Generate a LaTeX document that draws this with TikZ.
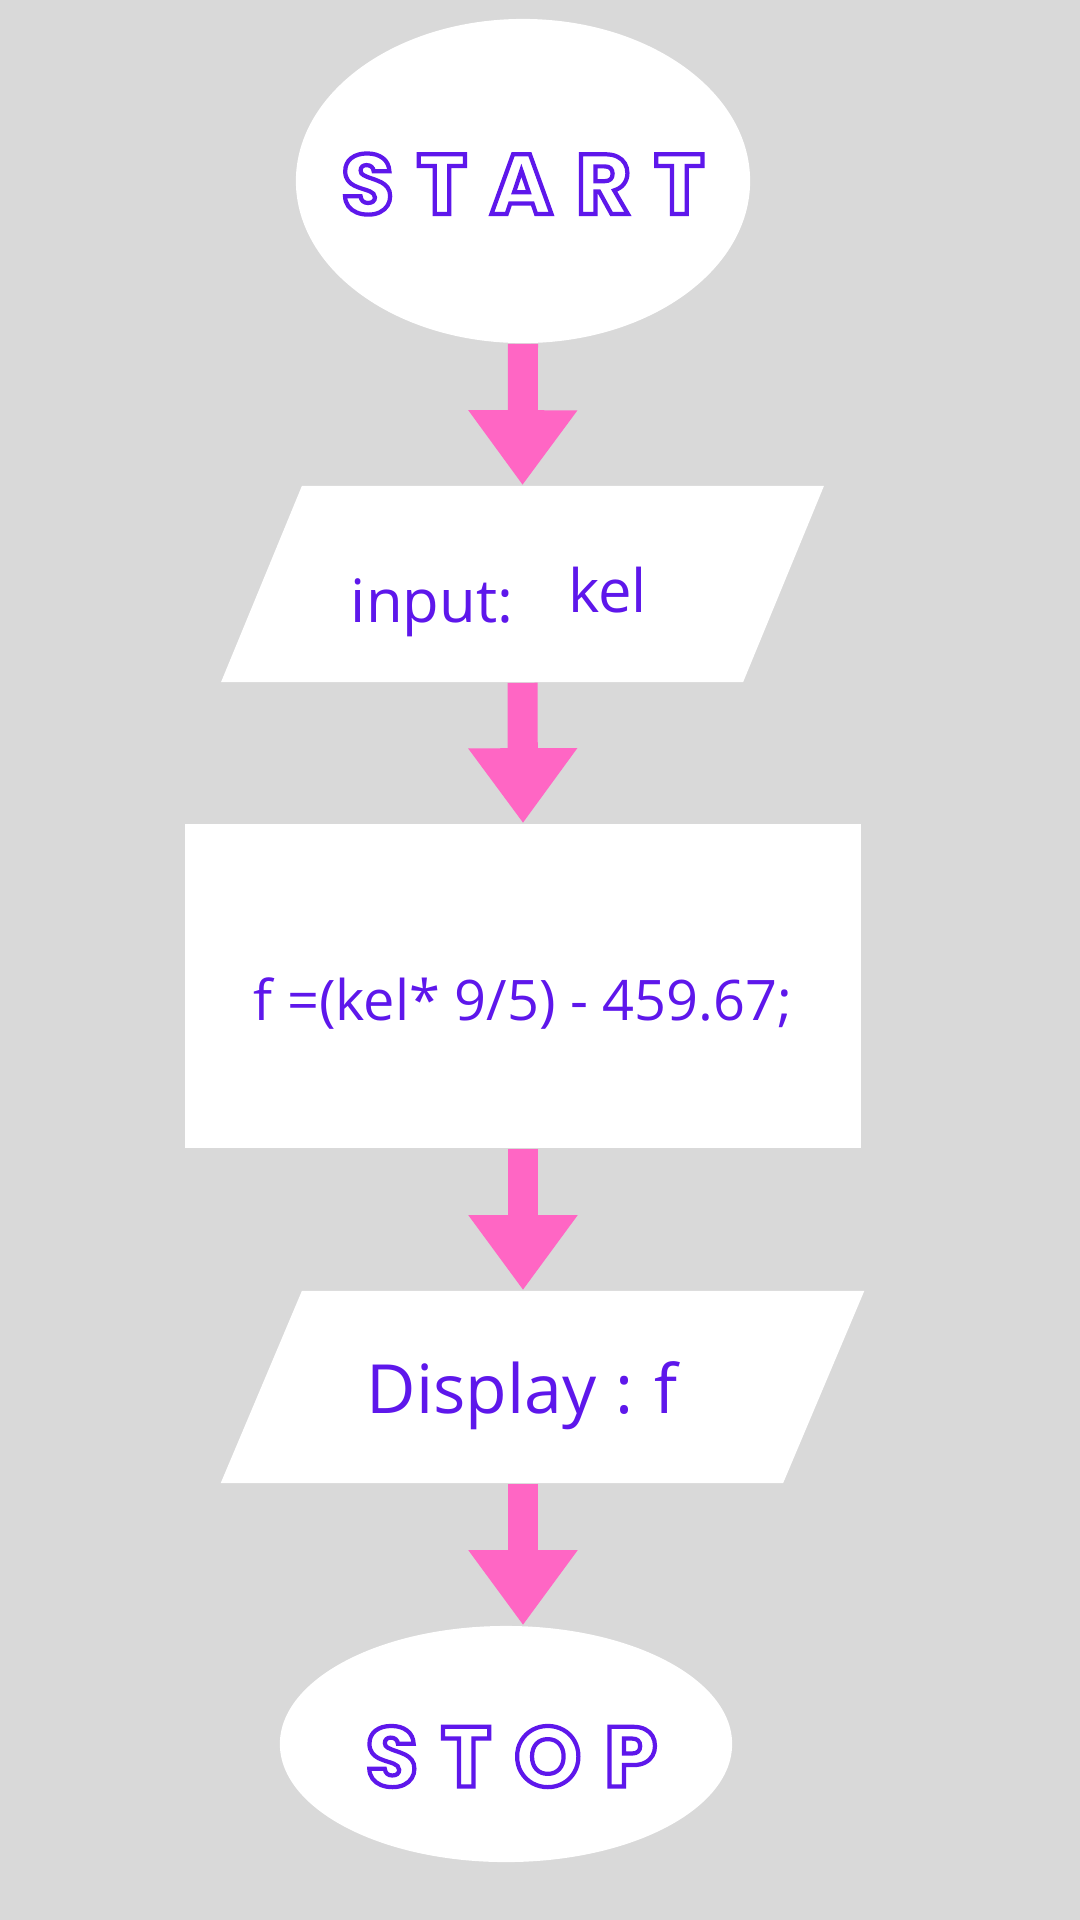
\documentclass[tikz,border=0pt]{standalone}
\usepackage{fontspec}
\usepackage{tikz}
\usepackage{xcolor}
\usetikzlibrary{arrows.meta,shapes.geometric}
\setmainfont{Open Sans}
\newfontfamily\termfont[LetterSpace=27]{Poppins}
\definecolor{canvas}{HTML}{D9D9D9}
\definecolor{flowpink}{HTML}{FF66C4}
\definecolor{flowviolet}{HTML}{5E17EB}
\tikzstyle{terminal_state} =
  [ ellipse
  , fill=white
  , inner sep=0pt
  , text=flowviolet
  , text depth=0pt
  ]
\tikzstyle{io_state} =
  [ trapezium
  , fill=white
  , inner sep=0pt
  , align=center
  , text=flowviolet
  ]
\tikzstyle{process_state} =
  [ rectangle
  , fill=white
  , inner sep=0pt
  , text=flowviolet
  , text depth=0pt
  , minimum width=6.76cm
  , minimum height=3.24cm
  ]
\tikzstyle{flow_arrow} =
  [ draw=flowpink
  , line width=0.3cm
  , -{Triangle[length=0.75cm,width=1.04cm]}
  ]
\newcommand\OutlineText[1]{\special{pdf:literal direct 1 Tr 1.2 w}#1\special{pdf:literal direct 0 Tr}}
\def\StartTerm{\termfont\bfseries\fontsize{24.2}{28}\selectfont\OutlineText{START}}
\def\StopTerm{\termfont\bfseries\fontsize{24.2}{28}\selectfont\OutlineText{STOP}}
\def\InputKel{\fontsize{17}{20}\selectfont input:\hspace{0.55cm}\raisebox{0.1cm}{kel}\kern0.47cm}
\def\FahrFormula{\fontsize{15.9}{19}\selectfont f =(kel* 9/5) - 459.67;}
\def\DisplayF{\fontsize{19.3}{23}\selectfont Display\hspace{0.19cm}:\hspace{0.21cm}f\kern0.41cm}

\begin{document}
\begin{tikzpicture}[x=0.01cm,y=-0.01cm]
    \fill[canvas] (0,0) rectangle (1080,1920);
    \useasboundingbox (0,0) rectangle (1080,1920);

    \node[terminal_state, minimum width=4.54cm, minimum height=3.24cm, text height=0.66cm] (start) at (523,  181)  {\makebox[0pt]{\StartTerm}};
    \node[io_state, trapezium left angle=67.6, trapezium right angle=112.4,
          text width=4.41cm, text height=1.36cm, text depth=0.60cm]                       (input) at (522.5,584)  {\InputKel};
    \node[process_state,                                               text height=0.68cm] (calc)  at (523,  986)  {\FahrFormula};
    \node[io_state, trapezium left angle=67.1, trapezium right angle=112.9,
          text width=4.81cm, text height=1.22cm, text depth=0.70cm]                       (disp)  at (542.5,1387) {\DisplayF};
    \node[terminal_state, minimum width=4.52cm, minimum height=2.36cm, text height=0.85cm] (stop)  at (506,  1744) {\makebox[0pt]{\hspace{0.11cm}\StopTerm}};

    \draw[flow_arrow] (start.south)              -- (input.north);
    \draw[flow_arrow] (input.south)              -- (calc.north);
    \draw[flow_arrow] (calc.south)               -- (calc.south |- disp.north);
    \draw[flow_arrow] (calc.south |- disp.south) -- (calc.south |- stop.north);
  \end{tikzpicture}
\end{document}
